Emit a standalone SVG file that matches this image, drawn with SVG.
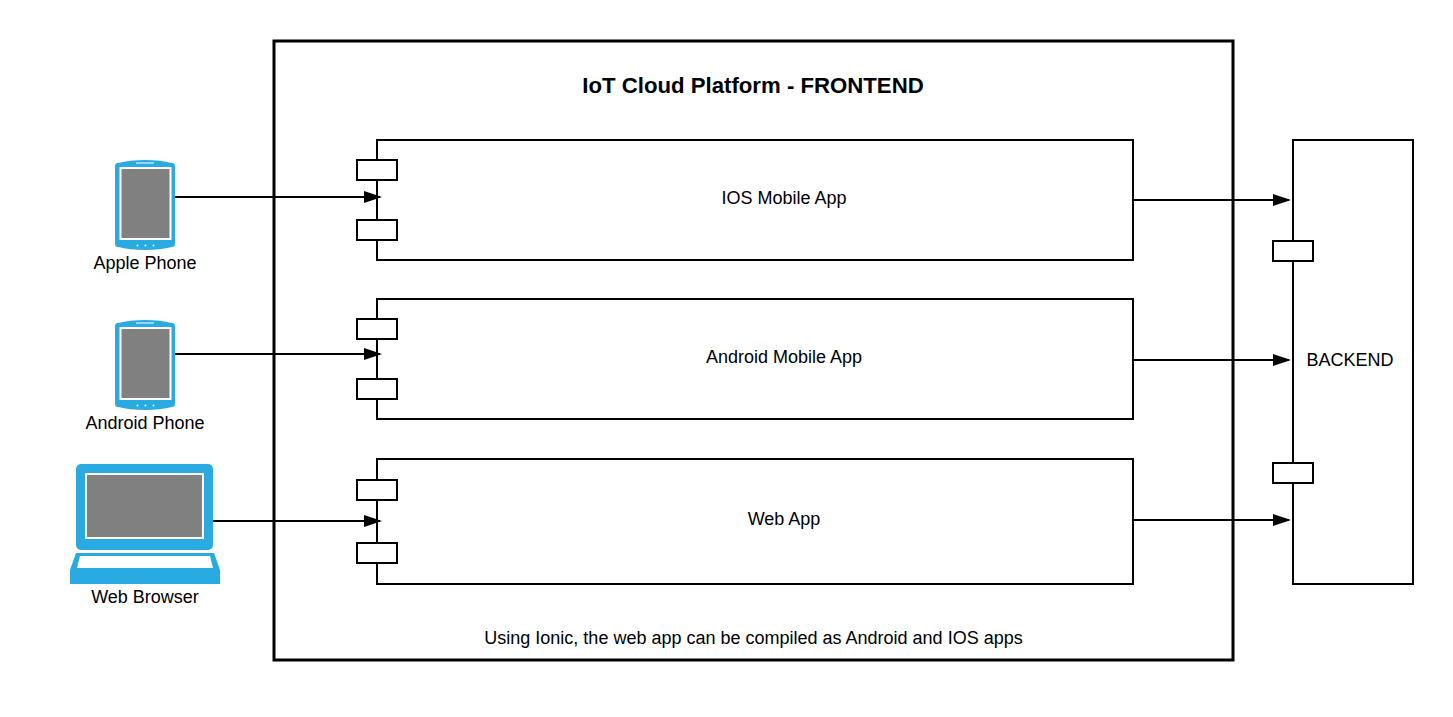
<svg xmlns="http://www.w3.org/2000/svg" width="1453" height="717" viewBox="0 0 1453 717">
<style>
text{font-family:"Liberation Sans",Arial,sans-serif;font-size:18px;fill:#000;text-anchor:middle}
.b{fill:#fff;stroke:#000;stroke-width:2}
.c{fill:none;stroke:#000;stroke-width:2;marker-end:url(#a)}
.blue{fill:#29abe2}
.scr{fill:#808080;stroke:#fff;stroke-width:2}
.w{fill:#fff}
</style>
<defs>
<marker id="a" markerUnits="userSpaceOnUse" markerWidth="18" markerHeight="14" refX="16" refY="7" orient="auto"><path d="M0 1L18 7L0 13Z" fill="#000"/></marker>
<g id="phone">
<path class="blue" d="M115 166Q115 163 118 163Q130 160 145 160Q160 160 172 163Q175 163 175 166V244Q175 247 172 247Q160 250 145 250Q130 250 118 247Q115 247 115 244Z"/>
<rect class="scr" x="120.500" y="168" width="50" height="71"/>
<rect class="w" x="136" y="162.500" width="18" height="1"/>
<circle class="w" cx="137.500" cy="245.500" r="1"/><circle class="w" cx="145.500" cy="245.500" r="1"/><circle class="w" cx="153.500" cy="245.500" r="1"/>
</g>
</defs>
<rect width="1453" height="717" fill="#fff"/>
<g id="frontend"><rect x="274" y="41" width="959" height="619" fill="#fff" stroke="#000" stroke-width="3"/>
<text x="753" y="93" style="font-size:22.200px;font-weight:bold">IoT Cloud Platform - FRONTEND</text>
<text x="753.500" y="644">Using Ionic, the web app can be compiled as Android and IOS apps</text></g>
<g id="ios"><rect class="b" x="377" y="140" width="756" height="120"/><rect class="b" x="357" y="160" width="40" height="20"/><rect class="b" x="357" y="220" width="40" height="20"/><text x="784" y="204">IOS Mobile App</text></g>
<g id="android"><rect class="b" x="377" y="299" width="756" height="120"/><rect class="b" x="357" y="319" width="40" height="20"/><rect class="b" x="357" y="379" width="40" height="20"/><text x="784" y="363">Android Mobile App</text></g>
<g id="web"><rect class="b" x="377" y="459" width="756" height="125"/><rect class="b" x="357" y="480" width="40" height="20"/><rect class="b" x="357" y="543" width="40" height="20"/><text x="784" y="525">Web App</text></g>
<g id="backend"><rect class="b" x="1293" y="140" width="120" height="444"/><rect class="b" x="1273" y="241" width="40" height="20"/><rect class="b" x="1273" y="463" width="40" height="20"/><text x="1350" y="366">BACKEND</text></g>
<g id="apple-phone"><use href="#phone"/><text x="145" y="269">Apple Phone</text></g>
<g id="android-phone"><use href="#phone" y="160"/><text x="145" y="429">Android Phone</text></g>
<g id="web-browser">
<rect class="blue" x="76" y="464" width="137" height="86" rx="5"/>
<rect class="scr" x="86" y="474" width="117" height="64"/>
<path class="blue" d="M76 553H214L220 570V584H70V570Z"/>
<path class="w" d="M80 556H210L213 568H77Z"/>
<text x="145" y="603">Web Browser</text></g>
<g id="connectors">
<path class="c" d="M175 197H380"/>
<path class="c" d="M175 354H380"/>
<path class="c" d="M213 521H380"/>
<path class="c" d="M1133 200H1289"/>
<path class="c" d="M1133 360H1289"/>
<path class="c" d="M1133 520H1289"/>
</g>
</svg>
